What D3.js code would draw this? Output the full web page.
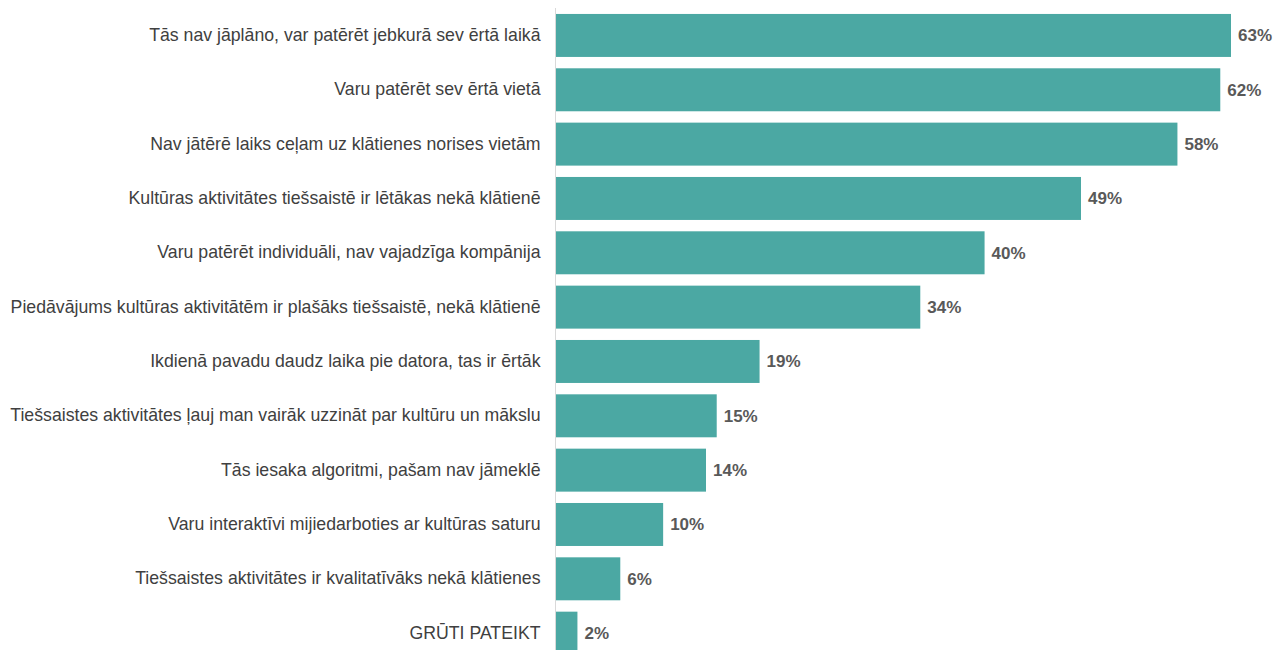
<!DOCTYPE html>
<html>
<head>
<meta charset="utf-8">
<script src="https://cdn.jsdelivr.net/npm/d3@7"></script>
<style>
  html, body { margin: 0; padding: 0; background: #fff; }
  svg { display: block; }
</style>
</head>
<body>
<svg id="chart" width="1273" height="650"></svg>
<script>
// Reasons for consuming culture online (% of respondents)
const categories = [
  "Tās nav jāplāno, var patērēt jebkurā sev ērtā laikā",
  "Varu patērēt sev ērtā vietā",
  "Nav jātērē laiks ceļam uz klātienes norises vietām",
  "Kultūras aktivitātes tiešsaistē ir lētākas nekā klātienē",
  "Varu patērēt individuāli, nav vajadzīga kompānija",
  "Piedāvājums kultūras aktivitātēm ir plašāks tiešsaistē, nekā klātienē",
  "Ikdienā pavadu daudz laika pie datora, tas ir ērtāk",
  "Tiešsaistes aktivitātes ļauj man vairāk uzzināt par kultūru un mākslu",
  "Tās iesaka algoritmi, pašam nav jāmeklē",
  "Varu interaktīvi mijiedarboties ar kultūras saturu",
  "Tiešsaistes aktivitātes ir kvalitatīvāks nekā klātienes",
  "GRŪTI PATEIKT"
];
const values = [63, 62, 58, 49, 40, 34, 19, 15, 14, 10, 6, 2];

const svg = d3.select("#chart");
const font = "'Liberation Sans', Arial, sans-serif";

const x = d3.scaleLinear().domain([0, 63]).range([556, 1231]);
const y = d3.scaleBand().domain(categories).range([2.6, 666]).paddingInner(0.209).paddingOuter(0.209);

// bars
svg.append("g").selectAll("rect")
  .data(values)
  .join("rect")
  .attr("x", x(0))
  .attr("y", (d, i) => y(categories[i]))
  .attr("width", d => x(d) - x(0))
  .attr("height", y.bandwidth())
  .attr("fill", "#4ba8a3");

// category axis
const axis = svg.append("g")
  .attr("transform", `translate(${x(0) - 0.5},0)`)
  .call(d3.axisLeft(y).tickSize(0).tickPadding(15));
axis.select(".domain").attr("stroke", "#d9d9d9").attr("d", "M0,8V650");
axis.selectAll("text")
  .attr("fill", "#404040")
  .style("font-family", font)
  .style("font-size", "17.7px");

// value labels
svg.append("g").selectAll("text")
  .data(values)
  .join("text")
  .attr("x", d => x(d) + 7)
  .attr("y", (d, i) => y(categories[i]) + y.bandwidth() / 2)
  .attr("dy", "0.35em")
  .attr("fill", "#595959")
  .style("font-family", font)
  .style("font-size", "17px")
  .style("font-weight", "bold")
  .text(d => d + "%");
</script>
</body>
</html>
